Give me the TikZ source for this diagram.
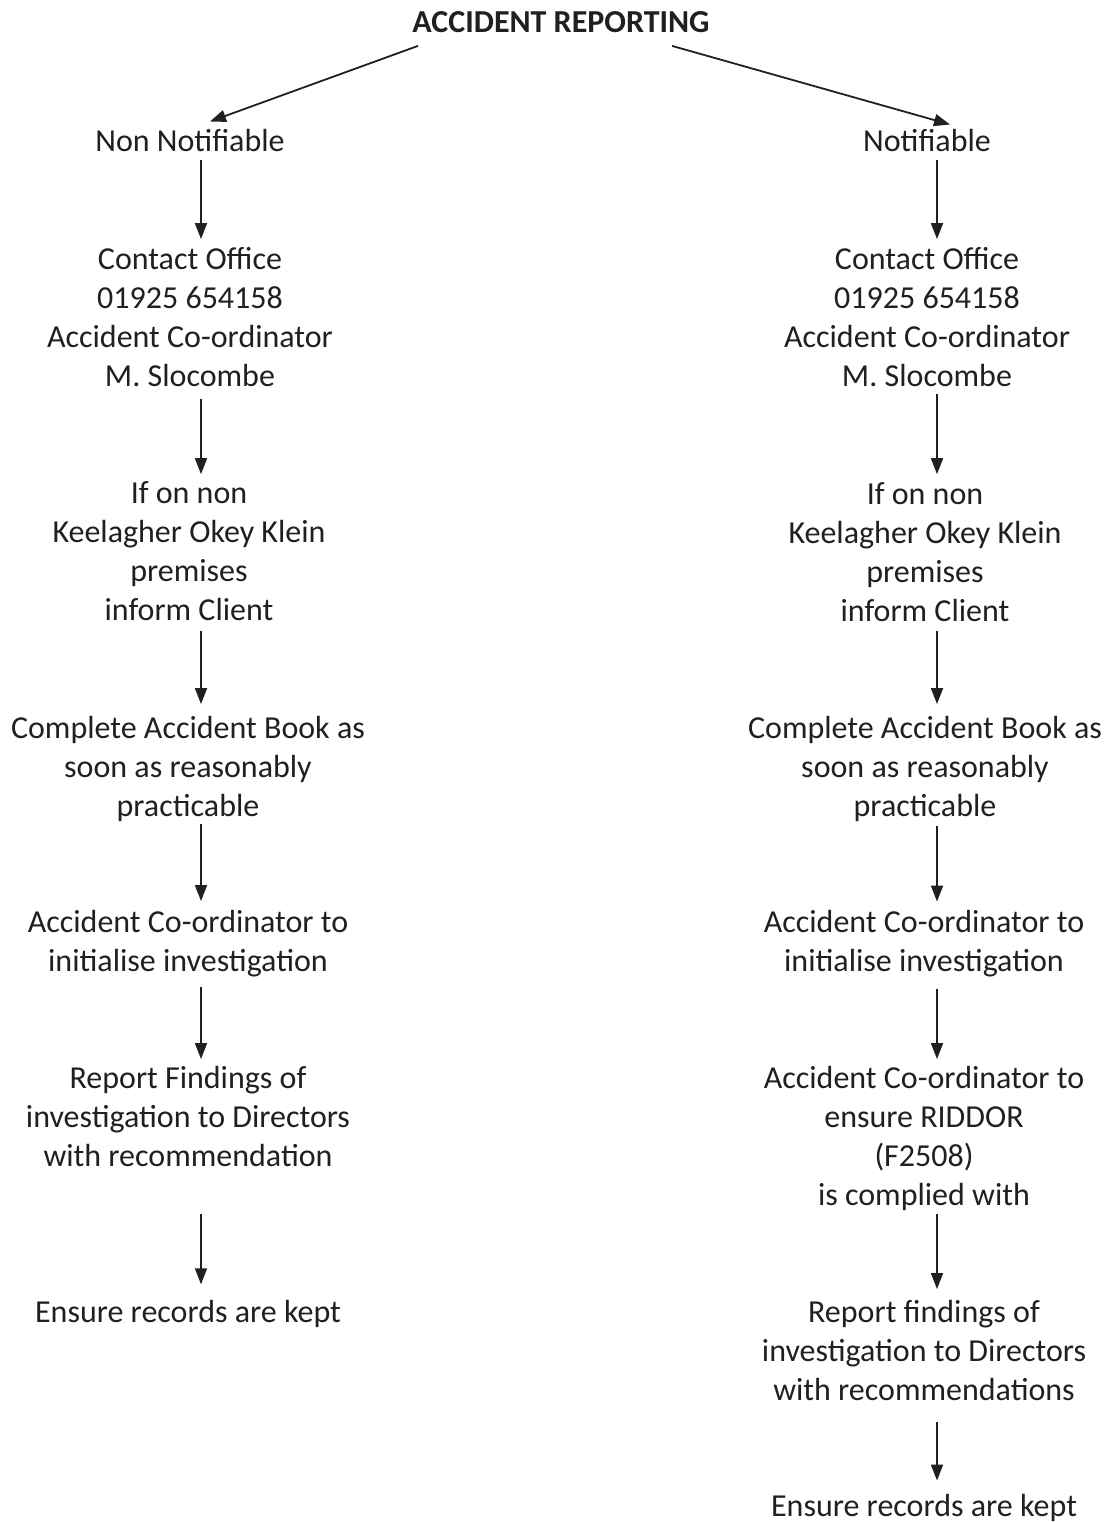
\documentclass[tikz,border=0pt]{standalone}
\usepackage{fontspec}
\setmainfont{Carlito}
\usetikzlibrary{arrows.meta}
\definecolor{ink}{HTML}{231F20}
\begin{document}
\begin{tikzpicture}[x=1pt,y=-1pt,
  txt/.style={inner sep=0pt,align=center,text=ink,font=\fontsize{32}{39}\selectfont,
    execute at begin node=\strut, execute at end node=\strut},
  ttl/.style={txt,font=\fontsize{32}{39}\selectfont\bfseries},
  arr/.style={draw=ink,line width=1.8pt,-{Triangle[length=16pt,width=12pt]}}]
\newcommand\flow[5]{\draw[arr,shorten <=#4pt,shorten >=#5pt] (#1.south -| #3) -- (#2.north -| #3);}
\useasboundingbox (0,0) rectangle (1111,1522);
\fill[white] (0,0) rectangle (1111,1522);
\coordinate (colL) at (201,0);
\coordinate (colR) at (937,0);
\node[ttl] (title) at (561,25.2) {ACCIDENT REPORTING};
% left column
\node[txt] (l1) at (190,144.2) {Non Notifiable};
\node[txt] (l2) at (190,322.7) {Contact Office\\01925 654158\\Accident Co-ordinator\\M. Slocombe};
\node[txt] (l3) at (189,556.7) {If on non\\Keelagher Okey Klein\\premises\\inform Client};
\node[txt] (l4) at (188,772.2) {Complete Accident Book as\\soon as reasonably\\practicable};
\node[txt] (l5) at (188,946.7) {Accident Co-ordinator to\\initialise investigation};
\node[txt] (l6) at (188,1122.2) {Report Findings of\\investigation to Directors\\with recommendation};
\node[txt] (l7) at (188,1315) {Ensure records are kept};
% right column
\node[txt] (r1) at (927,144.2) {Notifiable};
\node[txt] (r2) at (927,322.7) {Contact Office\\01925 654158\\Accident Co-ordinator\\M. Slocombe};
\node[txt] (r3) at (925,557.7) {If on non\\Keelagher Okey Klein\\premises\\inform Client};
\node[txt] (r4) at (925,772.2) {Complete Accident Book as\\soon as reasonably\\practicable};
\node[txt] (r5) at (924,947.2) {Accident Co-ordinator to\\initialise investigation};
\node[txt] (r6) at (924,1141.7) {Accident Co-ordinator to\\ensure RIDDOR\\(F2508)\\is complied with};
\node[txt] (r7) at (924,1356.2) {Report findings of\\investigation to Directors\\with recommendations};
\node[txt] (r8) at (924,1508.2) {Ensure records are kept};
% diagonal arrows
\draw[arr] ([xshift=-143pt,yshift=-1pt]title.south) -- ([xshift=20pt,yshift=3pt]l1.north);
\draw[arr] ([xshift=111pt,yshift=-1pt]title.south) -- ([xshift=23pt,yshift=0pt]r1.north);
% left arrows
\flow{l1}{l2}{colL}{-4}{8}
\flow{l2}{l3}{colL}{1}{7}
\flow{l3}{l4}{colL}{-1}{12}
\flow{l4}{l5}{colL}{-4}{9}
\flow{l5}{l6}{colL}{4}{7}
\flow{l6}{l7}{colL}{36}{11}
% right arrows
\flow{r1}{r2}{colR}{-4}{8}
\flow{r2}{r3}{colR}{-4}{8}
\flow{r3}{r4}{colR}{-2}{12}
\flow{r4}{r5}{colR}{-2}{9}
\flow{r5}{r6}{colR}{5}{7}
\flow{r6}{r7}{colR}{-3}{11}
\flow{r7}{r8}{colR}{10}{8}
\end{tikzpicture}
\end{document}
